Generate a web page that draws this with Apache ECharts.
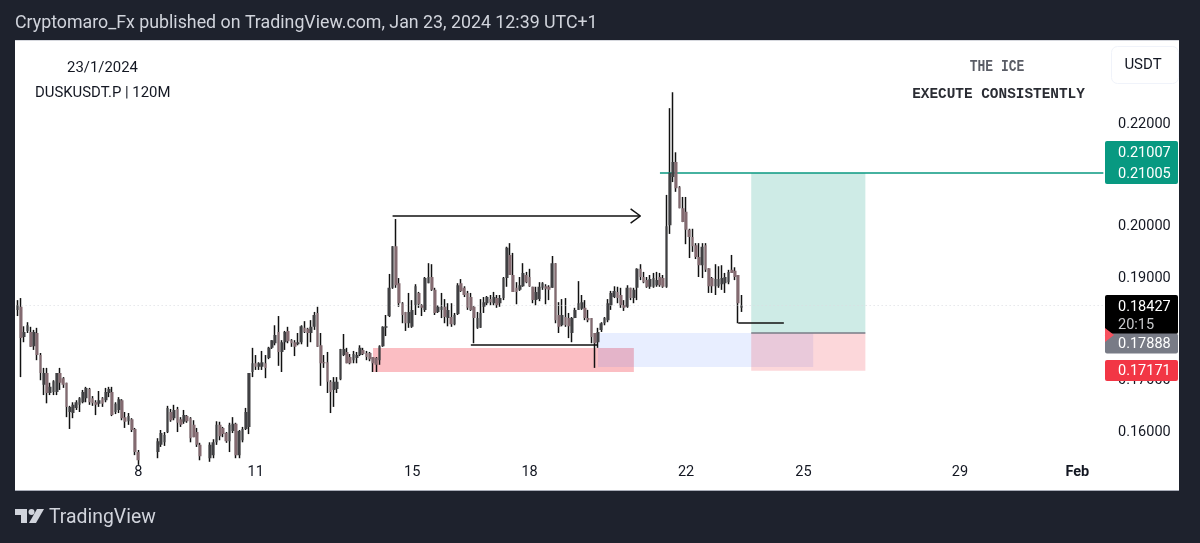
<!DOCTYPE html>
<html>
<head>
<meta charset="utf-8">
<title>DUSKUSDT.P 120M</title>
<style>
  html, body { margin: 0; padding: 0; background: #1e222d; }
  #main { width: 1200px; height: 543px; }
</style>
<script src="https://cdn.jsdelivr.net/npm/echarts@6/dist/echarts.min.js"></script>
</head>
<body>
<div id="main"></div>
<script>
// candle values, 10 per row
var opens = [
  .1834,.1840,.1781,.1793,.1791,.1763,.1789,.1746,.1688,.1711,
  .1672,.1674,.1674,.1711,.1701,.1692,.1635,.1633,.1643,.1649,
  .1654,.1662,.1680,.1662,.1654,.1651,.1662,.1658,.1672,.1674,
  .1635,.1639,.1658,.1625,.1617,.1621,.1602,.1557,.1545,.1534,
  .1503,.1514,.1526,.1557,.1571,.1576,.1596,.1635,.1623,.1641,
  .1621,.1616,.1627,.1623,.1610,.1596,.1571,.1551,.1532,.1545,
  .1551,.1576,.1610,.1604,.1594,.1578,.1598,.1612,.1551,.1580,
  .1602,.1606,.1713,.1730,.1723,.1723,.1730,.1740,.1760,.1769,
  .1791,.1752,.1771,.1793,.1775,.1771,.1767,.1771,.1799,.1797,
  .1789,.1801,.1828,.1765,.1732,.1732,.1694,.1678,.1680,.1699,
  .1746,.1752,.1742,.1736,.1740,.1746,.1756,.1750,.1750,.1742,
  .1740,.1736,.1763,.1799,.1822,.1877,.1958,.1886,.1847,.1830,
  .1808,.1801,.1843,.1867,.1843,.1834,.1886,.1898,.1873,.1830,
  .1834,.1840,.1818,.1820,.1806,.1826,.1886,.1877,.1867,.1859,
  .1840,.1799,.1799,.1840,.1847,.1855,.1847,.1857,.1847,.1857,
  .1896,.1941,.1902,.1877,.1873,.1880,.1902,.1898,.1879,.1853,
  .1855,.1877,.1880,.1879,.1877,.1925,.1824,.1804,.1820,.1818,
  .1789,.1818,.1834,.1836,.1838,.1818,.1818,.1789,.1771,.1795,
  .1808,.1814,.1843,.1859,.1869,.1863,.1843,.1840,.1877,.1857,
  .1877,.1914,.1898,.1892,.1879,.1879,.1882,.1898,.1896,.1879,
  .1999,.2093,.2122,.2073,.2032,.2025,.1990,.1976,.1960,.1937,
  .1921,.1960,.1915,.1896,.1880,.1880,.1884,.1886,.1888,.1912,
  .1910,.1902,.1838
];
var closes = [
  .1843,.1779,.1791,.1804,.1762,.1791,.1746,.1711,.1711,.1672,
  .1684,.1695,.1711,.1692,.1688,.1645,.1645,.1649,.1654,.1662,
  .1674,.1682,.1654,.1652,.1649,.1658,.1651,.1674,.1680,.1629,
  .1651,.1660,.1623,.1616,.1627,.1600,.1557,.1541,.1522,.1510,
  .1522,.1532,.1545,.1578,.1594,.1590,.1643,.1619,.1639,.1614,
  .1610,.1629,.1617,.1584,.1586,.1571,.1549,.1532,.1545,.1571,
  .1576,.1610,.1588,.1592,.1578,.1610,.1612,.1551,.1598,.1602,
  .1635,.1711,.1730,.1723,.1730,.1732,.1721,.1760,.1775,.1785,
  .1752,.1771,.1791,.1773,.1769,.1762,.1771,.1802,.1791,.1789,
  .1801,.1824,.1762,.1730,.1730,.1694,.1674,.1694,.1694,.1758,
  .1758,.1730,.1730,.1748,.1746,.1760,.1748,.1742,.1738,.1730,
  .1727,.1763,.1801,.1802,.1877,.1958,.1882,.1847,.1824,.1808,
  .1830,.1834,.1880,.1845,.1838,.1896,.1898,.1873,.1828,.1840,
  .1840,.1820,.1834,.1806,.1824,.1882,.1871,.1863,.1838,.1834,
  .1818,.1818,.1828,.1849,.1859,.1849,.1859,.1843,.1857,.1896,
  .1955,.1902,.1869,.1869,.1882,.1906,.1888,.1880,.1853,.1869,
  .1879,.1886,.1875,.1873,.1925,.1814,.1801,.1824,.1804,.1802,
  .1818,.1834,.1847,.1849,.1818,.1814,.1781,.1769,.1791,.1808,
  .1818,.1847,.1867,.1871,.1857,.1843,.1838,.1877,.1857,.1873,
  .1914,.1898,.1888,.1879,.1894,.1896,.1892,.1882,.1879,.1997,
  .2101,.2122,.2071,.2032,.2005,.1990,.1976,.1958,.1937,.1921,
  .1957,.1912,.1880,.1880,.1894,.1894,.1896,.1898,.1908,.1906,
  .1898,.1847,.18427
];
var lows = [
  .1822,.1703,.1771,.1789,.1762,.1756,.1736,.1697,.1668,.1652,
  .1668,.1668,.1668,.1678,.1682,.1625,.1602,.1623,.1639,.1635,
  .1652,.1654,.1649,.1647,.1629,.1645,.1645,.1654,.1664,.1627,
  .1631,.1633,.1619,.1604,.1610,.1596,.1551,.1532,.1518,.1503,
  .1493,.1503,.1512,.1545,.1567,.1569,.1594,.1616,.1619,.1596,
  .1606,.1612,.1614,.1576,.1586,.1567,.1541,.1522,.1526,.1538,
  .1545,.1571,.1580,.1586,.1575,.1557,.1594,.1545,.1545,.1576,
  .1600,.1592,.1703,.1717,.1717,.1717,.1701,.1738,.1758,.1765,
  .1725,.1713,.1756,.1769,.1762,.1744,.1765,.1767,.1789,.1762,
  .1771,.1795,.1762,.1686,.1721,.1672,.1633,.1645,.1672,.1697,
  .1744,.1730,.1728,.1730,.1730,.1744,.1746,.1736,.1734,.1713,
  .1713,.1727,.1762,.1783,.1820,.1875,.1877,.1840,.1808,.1793,
  .1799,.1799,.1824,.1838,.1822,.1830,.1886,.1871,.1824,.1828,
  .1818,.1808,.1802,.1801,.1804,.1824,.1869,.1859,.1834,.1832,
  .1769,.1797,.1799,.1828,.1843,.1843,.1843,.1838,.1840,.1853,
  .1879,.1902,.1869,.1845,.1871,.1879,.1886,.1879,.1847,.1843,
  .1851,.1873,.1845,.1853,.1877,.1808,.1789,.1802,.1801,.1779,
  .1771,.1818,.1834,.1834,.1814,.1810,.1769,.1721,.1760,.1791,
  .1804,.1810,.1834,.1857,.1847,.1838,.1832,.1838,.1853,.1847,
  .1853,.1892,.1886,.1877,.1875,.1877,.1879,.1879,.1877,.1877,
  .1982,.2083,.2064,.2032,.2005,.1962,.1935,.1947,.1933,.1898,
  .1896,.1908,.1867,.1867,.1863,.1877,.1873,.1867,.1884,.1906,
  .1892,.1808,.1830
];
var highs = [
  .1853,.1857,.1802,.1810,.1801,.1795,.1799,.1750,.1721,.1721,
  .1692,.1697,.1711,.1721,.1703,.1692,.1647,.1654,.1658,.1664,
  .1678,.1684,.1682,.1666,.1658,.1676,.1664,.1682,.1684,.1684,
  .1654,.1664,.1660,.1635,.1633,.1623,.1604,.1561,.1551,.1541,
  .1532,.1538,.1551,.1584,.1600,.1596,.1647,.1641,.1649,.1645,
  .1625,.1639,.1629,.1625,.1619,.1604,.1575,.1557,.1551,.1576,
  .1582,.1617,.1616,.1606,.1596,.1614,.1625,.1614,.1600,.1606,
  .1643,.1711,.1760,.1746,.1732,.1754,.1746,.1762,.1775,.1804,
  .1822,.1775,.1793,.1801,.1777,.1775,.1789,.1804,.1812,.1799,
  .1814,.1830,.1840,.1789,.1746,.1752,.1697,.1703,.1703,.1758,
  .1787,.1760,.1748,.1754,.1752,.1765,.1760,.1754,.1752,.1742,
  .1742,.1765,.1802,.1824,.1904,.1958,.2011,.1896,.1849,.1830,
  .1867,.1853,.1884,.1869,.1845,.1898,.1925,.1923,.1877,.1843,
  .1867,.1855,.1847,.1847,.1828,.1886,.1894,.1880,.1871,.1867,
  .1841,.1830,.1855,.1859,.1861,.1863,.1869,.1863,.1863,.1898,
  .1957,.1964,.1945,.1888,.1898,.1925,.1908,.1914,.1879,.1879,
  .1888,.1888,.1884,.1882,.1939,.1925,.1849,.1855,.1857,.1828,
  .1820,.1838,.1890,.1863,.1853,.1834,.1818,.1789,.1799,.1810,
  .1820,.1855,.1871,.1880,.1879,.1877,.1853,.1882,.1877,.1877,
  .1915,.1923,.1908,.1898,.1902,.1906,.1908,.1906,.1902,.2058,
  .2227,.2258,.2141,.2075,.2054,.2054,.1992,.1992,.1964,.1964,
  .1964,.1964,.1915,.1898,.1923,.1919,.1921,.1906,.1912,.1941,
  .1917,.1902,.1863
];

// price and time axes
var priceTicks = [0.16, 0.17, 0.18, 0.19, 0.20, 0.21, 0.22];
var priceMin = 0.15571, priceMax = 0.23598;
var slotCount = 334;
var firstSlot = Date.UTC(2024, 0, 4, 22);
var dayLabels = {
  '01-08 00': '8', '01-11 00': '11', '01-15 00': '15', '01-18 00': '18',
  '01-22 00': '22', '01-25 00': '25', '01-29 00': '29', '02-01 00': 'Feb'
};

// drawn tools: [from slot, to slot, price a, price b]
var supplyZone = [109, 189, 0.17597, 0.17130];
var fvgZone    = [178, 244, 0.17889, 0.17227];
var targetZone = [225, 260, 0.21005, 0.17888];
var stopZone   = [225, 260, 0.17888, 0.17155];
var arrowLine  = [115, 191, 0.20169, 0.20169];
var arrowHeadA = [188, 191, 0.20306, 0.20169];
var arrowHeadB = [188, 191, 0.20032, 0.20169];
var sweepLine  = [139, 178, 0.17656, 0.17656];
var retestLine = [221, 235, 0.18084, 0.18084];
var entryLine  = [225, 260, 0.17888, 0.17888];
var targetLine = [197, 333, 0.21005, 0.21005];
var lastLine   = [0, 333, 0.18427, 0.18427];

var categories = [];
for (var s = 0; s < slotCount; s++) {
    categories.push(new Date(firstSlot + s * 7200000).toISOString().slice(5, 13).replace('T', ' '));
}
var candles = opens.map(function (o, i) {
    return [o, closes[i], lows[i], highs[i]];
});

function areaItem(z, color) {
    return [
        { coord: [z[0], z[2]], itemStyle: { color: color } },
        { coord: [z[1], z[3]] }
    ];
}
function lineItem(l, color, width, type) {
    return [
        { coord: [l[0], l[2]], lineStyle: { color: color, width: width, type: type || 'solid' } },
        { coord: [l[1], l[3]] }
    ];
}

var chart = echarts.init(document.getElementById('main'), null, { renderer: 'canvas' });

var option = {
    animation: false,
    backgroundColor: '#1e222d',
    grid: { left: 16, top: 40, width: 1089, height: 412 },
    xAxis: {
        type: 'category',
        data: categories,
        boundaryGap: true,
        axisLine: { show: false },
        axisTick: { show: false },
        splitLine: { show: false },
        axisLabel: {
            margin: 13,
            fontFamily: 'Roboto',
            fontSize: 14.5,
            color: '#131722',
            interval: function (index, value) { return !!dayLabels[value]; },
            formatter: function (value) {
                var t = dayLabels[value];
                return t === 'Feb' ? '{b|Feb}' : t;
            },
            rich: { b: { fontFamily: 'Roboto', fontSize: 14.5, fontWeight: 'bold', color: '#131722' } }
        }
    },
    yAxis: {
        type: 'value',
        position: 'right',
        min: priceMin,
        max: priceMax,
        scale: true,
        axisLine: { show: false },
        axisTick: { show: false },
        splitLine: { show: false },
        axisLabel: {
            customValues: priceTicks,
            margin: 13,
            fontFamily: 'Roboto',
            fontSize: 14.5,
            color: '#131722',
            formatter: function (v) { return '{p|' + v.toFixed(5) + '}'; },
            rich: { p: { fontFamily: 'Roboto', fontSize: 14.5, color: '#131722', padding: [4, 0, 0, 0] } }
        }
    },
    series: [
        {
            // wicks, and every drawing the chart carries
            name: 'wicks',
            type: 'candlestick',
            data: candles,
            barWidth: 1,
            z: 4,
            itemStyle: {
                color: '#111', color0: '#111',
                borderColor: '#111', borderColor0: '#111', borderColorDoji: '#111',
                borderWidth: 1.5
            },
            markArea: {
                silent: true,
                data: [
                    areaItem(supplyZone, 'rgba(242,54,69,0.32)'),
                    areaItem(fvgZone, 'rgba(41,98,255,0.11)'),
                    areaItem(targetZone, 'rgba(8,153,129,0.2)'),
                    areaItem(stopZone, 'rgba(242,54,69,0.2)')
                ]
            },
            markLine: {
                silent: true,
                symbol: 'none',
                label: { show: false },
                data: [
                    lineItem(lastLine, '#dadce1', 1, [1, 3]),
                    lineItem(arrowLine, '#111', 1.5),
                    lineItem(arrowHeadA, '#111', 1.5),
                    lineItem(arrowHeadB, '#111', 1.5),
                    lineItem(sweepLine, '#111', 1.5),
                    lineItem(retestLine, '#111', 1.5),
                    lineItem(entryLine, '#787b86', 1.5),
                    lineItem(targetLine, '#089981', 1.5)
                ]
            }
        },
        {
            name: 'bodies',
            type: 'candlestick',
            data: candles,
            barWidth: 3.2,
            z: 5,
            itemStyle: {
                color: '#404043', color0: '#836a70',
                borderColor: 'transparent', borderColor0: 'transparent', borderColorDoji: 'transparent',
                borderWidth: 0
            }
        }
    ]
};
chart.setOption(option);

// price tags sit on the axis, placed from the axis scale
function priceY(p) {
    return chart.convertToPixel({ yAxisIndex: 0 }, p);
}
var tagLeft = 1105, tagWidth = 73, textLeft = 1118;

function tagBox(top, height, color) {
    return {
        type: 'rect', z: 50,
        shape: { x: tagLeft, y: top, width: tagWidth, height: height, r: 2 },
        style: { fill: color }
    };
}
function tagText(text, y, color) {
    return {
        type: 'text', z: 51,
        style: {
            text: text, x: textLeft, y: y + 1.5,
            font: '14.5px Roboto', fill: color || '#ffffff',
            textAlign: 'left', textVerticalAlign: 'middle'
        }
    };
}
function label(text, x, y, font, fill, align) {
    return {
        type: 'text', z: 30,
        style: {
            text: text, x: x, y: y, font: font, fill: fill,
            textAlign: align || 'left', textVerticalAlign: 'middle'
        }
    };
}

var yTarget = priceY(0.21005), yLast = priceY(0.18427), yEntry = priceY(0.17888), yStop = priceY(0.17171);

// the watermark title is drawn taller than the font
var iceTitle = label('THE ICE', 997, 67, 'bold 13px "Liberation Mono"', '#5a5d66', 'center');
iceTitle.scaleY = 1.3;
iceTitle.originX = 997;
iceTitle.originY = 67;

chart.setOption({
    graphic: [
        // white pane and its hairlines
        { type: 'rect', z: -10, shape: { x: 15, y: 40, width: 1164, height: 450 }, style: { fill: '#ffffff' } },
        { type: 'rect', z: -9, shape: { x: 15, y: 40, width: 1164, height: 1 }, style: { fill: '#d6d8de' } },
        { type: 'rect', z: -9, shape: { x: 15, y: 490, width: 1164, height: 1 }, style: { fill: '#a9adb8' } },

        label('Cryptomaro_Fx published on TradingView.com, Jan 23, 2024 12:39 UTC+1', 15, 23.5, '17.8px Roboto', '#d1d4dc'),

        label('23/1/2024', 102.5, 68, '14.9px Roboto', '#131722', 'center'),
        label('DUSKUSDT.P | 120M', 35, 93, '14.9px Roboto', '#131722'),
        iceTitle,
        label('EXECUTE CONSISTENTLY', 998.5, 94, 'bold 14.4px "Liberation Mono"', '#2a2c33', 'center'),

        // USDT button
        {
            type: 'rect', z: 30,
            shape: { x: 1111.5, y: 46.5, width: 67, height: 37, r: 6 },
            style: { fill: '#ffffff', stroke: '#f0f3fa', lineWidth: 1 }
        },
        label('USDT', 1143, 65.5, '15px Roboto', '#131722', 'center'),

        // price tags
        tagBox(yTarget - 32, 43, '#089981'),
        tagText('0.21007', yTarget - 21),
        tagText('0.21005', yTarget),
        tagBox(yLast - 10.5, 39, '#000000'),
        tagText('0.18427', yLast),
        tagText('20:15', yLast + 18, '#c8c9cc'),
        tagBox(yEntry + 0.5, 20, '#787b86'),
        tagText('0.17888', yEntry + 10),
        tagBox(yStop - 10, 21, '#f23645'),
        tagText('0.17171', yStop),
        {
            type: 'polygon', z: 52,
            shape: { points: [[1105, 328], [1114, 335], [1105, 342]] },
            style: { fill: '#f7525f' }
        },

        // footer logo
        {
            type: 'polygon', z: 30,
            shape: { points: [[15, 509], [27, 509], [27, 523], [21, 523], [21, 515], [15, 515]] },
            style: { fill: '#d1d4dc' }
        },
        { type: 'circle', z: 30, shape: { cx: 31.5, cy: 512, r: 3 }, style: { fill: '#d1d4dc' } },
        {
            type: 'polygon', z: 30,
            shape: { points: [[37, 509], [44, 509], [36, 523], [29, 523]] },
            style: { fill: '#d1d4dc' }
        },
        label('TradingView', 49, 518.5, '19.4px Roboto', '#d1d4dc')
    ]
});
</script>
</body>
</html>
